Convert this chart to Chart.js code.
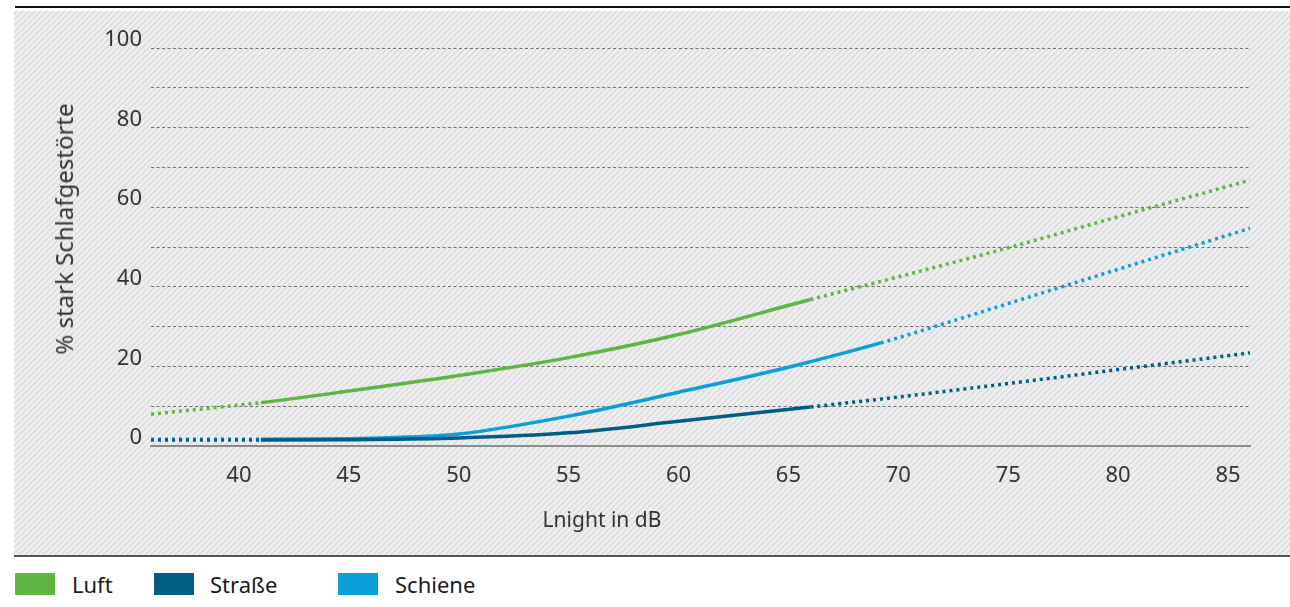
<!DOCTYPE html>
<html lang="de">
<head>
<meta charset="utf-8">
<title>Schlafgestörte nach Lnight</title>
<script src="https://cdn.jsdelivr.net/npm/chart.js@4.4.1/dist/chart.umd.min.js"></script>
<style>
  body { margin: 0; width: 1290px; height: 607px; position: relative; overflow: hidden; background: #fff;
         font-family: 'Noto Sans', sans-serif; color: #333; }
  .linie-oben { position: absolute; left: 15px; top: 6px; width: 1275px; height: 2px; background: #111; }
  .schraffur { position: absolute; left: 14px; top: 11px; width: 1276px; height: 544px; background-color: #e8e8e9; }
  .linie-unten { position: absolute; left: 14px; top: 555px; width: 1276px; height: 2px; background: #555; }
  #wrap { position: absolute; left: 0; top: 0; width: 1290px; height: 560px; }
  .titel-x { position: absolute; left: 602px; top: 509px; transform: translateX(-50%); font-size: 21px; line-height: 21px; white-space: nowrap; }
  .titel-y { position: absolute; left: 64px; top: 229px; transform: translate(-50%, -50%) rotate(-90deg); font-size: 24px; line-height: 24px; white-space: nowrap; }
  .leg-box { position: absolute; top: 573px; width: 40px; height: 22px; }
  .leg-txt { position: absolute; top: 572px; font-size: 22px; line-height: 24px; color: #1a1a1a; white-space: nowrap; }
</style>
</head>
<body>
<div class="linie-oben"></div>
<div class="schraffur" id="schraffur"></div>
<div class="linie-unten"></div>
<div id="wrap"><canvas id="grafik"></canvas></div>
<div class="titel-y">% stark Schlafgestörte</div>
<div class="titel-x">Lnight in dB</div>
<div id="legende"></div>

<script>
// Werte (x = Lnight in dB, y = % stark Schlafgestörte)
const dbLuft = [36, 41, 45, 50, 55, 60, 66, 70, 75, 80, 86];
const luft = [8.0, 10.9, 13.8, 17.7, 22.2, 28.0, 36.8, 42.5, 49.8, 57.6, 66.8];

const dbStrasse = [36, 41, 45, 50, 55, 60, 66, 70, 75, 80, 86];
const strasse = [1.5, 1.5, 1.6, 2.0, 3.3, 6.2, 9.8, 12.3, 15.7, 19.2, 23.4];

const dbSchiene = [36, 41, 45, 48, 50, 55, 60, 65, 69.2, 72, 75, 80, 86];
const schiene = [1.7, 1.7, 1.8, 2.3, 3.0, 7.5, 13.5, 19.8, 25.9, 30.6, 35.8, 44.4, 54.7];

// Bereich mit durchgezogener Linie (außerhalb gepunktet)
const bereichLuft = [41, 66];
const bereichStrasse = [41, 66];
const bereichSchiene = [41, 69.2];

// Achsenbeschriftung
const xTicks = [40, 45, 50, 55, 60, 65, 70, 75, 80, 85];

const namen = ['Luft', 'Straße', 'Schiene'];
const farben = ['#5fb541', '#005e85', '#0a9edb'];
const legendeX = [15, 154, 338];
const legendeTextX = [72, 210, 395];

// Schraffur als kleine Kachel
(function () {
    const k = document.createElement('canvas');
    k.width = 6; k.height = 6;
    const c = k.getContext('2d');
    c.fillStyle = '#dedfe1';
    c.fillRect(0, 0, 6, 6);
    c.strokeStyle = '#f2f2f2';
    c.lineWidth = 2.1;
    [0, 6, 12].forEach(s => {
        c.beginPath();
        c.moveTo(s - 7, 7);
        c.lineTo(s + 1, -1);
        c.stroke();
    });
    document.getElementById('schraffur').style.backgroundImage = 'url(' + k.toDataURL() + ')';
})();

function punkte(xs, ys) {
    return xs.map((x, i) => ({ x: x, y: ys[i] }));
}

function linie(label, xs, ys, farbe, bereich) {
    return {
        label: label,
        data: punkte(xs, ys),
        borderColor: farbe,
        borderWidth: 3.5,
        borderCapStyle: 'butt',
        pointRadius: 0,
        cubicInterpolationMode: 'monotone',
        fill: false,
        segment: {
            borderDash: ctx => (ctx.p0.parsed.x >= bereich[0] && ctx.p1.parsed.x <= bereich[1]) ? undefined : [3, 4]
        }
    };
}

// Legende
const leg = document.getElementById('legende');
namen.forEach((n, i) => {
    const box = document.createElement('div');
    box.className = 'leg-box';
    box.style.left = legendeX[i] + 'px';
    box.style.background = farben[i];
    leg.appendChild(box);
    const txt = document.createElement('div');
    txt.className = 'leg-txt';
    txt.style.left = legendeTextX[i] + 'px';
    txt.textContent = n;
    leg.appendChild(txt);
});

const schrift = { family: "'Noto Sans', sans-serif", size: 22 };

new Chart(document.getElementById('grafik'), {
    type: 'line',
    data: {
        datasets: [
            linie(namen[0], dbLuft, luft, farben[0], bereichLuft),
            linie(namen[1], dbStrasse, strasse, farben[1], bereichStrasse),
            linie(namen[2], dbSchiene, schiene, farben[2], bereichSchiene)
        ]
    },
    options: {
        responsive: true,
        maintainAspectRatio: false,
        animation: false,
        layout: { padding: { left: 0, top: 48, right: 40, bottom: 0 } },
        plugins: { legend: { display: false }, tooltip: { enabled: false } },
        scales: {
            x: {
                type: 'linear',
                min: 36,
                max: 86,
                afterBuildTicks: s => { s.ticks = xTicks.map(v => ({ value: v })); },
                afterFit: s => { s.height = 114; },
                ticks: { color: '#333', font: schrift, padding: 17, maxRotation: 0, autoSkip: false },
                grid: { color: 'rgba(0,0,0,0)', drawTicks: false },
                border: { display: true, color: '#8a8a8a', width: 2 }
            },
            y: {
                min: 0,
                max: 100,
                afterFit: s => { s.width = 151; },
                ticks: {
                    stepSize: 10,
                    color: '#333',
                    font: schrift,
                    padding: 9,
                    labelOffset: -8,
                    callback: v => (v % 20 === 0 ? v : '')
                },
                grid: {
                    drawTicks: false,
                    lineWidth: 1,
                    color: c => (c.tick && c.tick.value === 0) ? 'rgba(0,0,0,0)' : '#707070'
                },
                border: { display: false, dash: [3, 2.5] }
            }
        }
    }
});
</script>
</body>
</html>
